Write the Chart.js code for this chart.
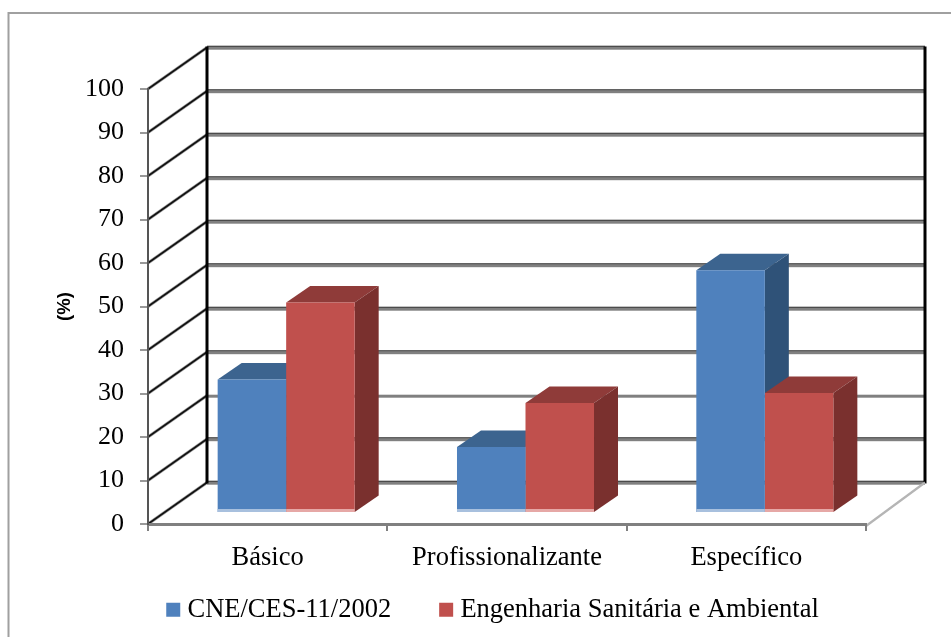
<!DOCTYPE html>
<html><head><meta charset="utf-8">
<style>html,body{margin:0;padding:0;background:#fff}#w{position:relative;width:951px;height:637px}canvas{display:block}</style>
<script src="https://cdn.jsdelivr.net/npm/chart.js@4"></script>
</head><body><div id="w"><canvas id="c" width="951" height="637"></canvas></div>
<script>
const categories = ["Básico", "Profissionalizante", "Específico"];
const seriesNames = ["CNE/CES-11/2002", "Engenharia Sanitária e Ambiental"];
const seriesA = [30.7, 15.2, 55.8];
const seriesB = [48.4, 25.3, 27.6];
const yTicks = [0,10,20,30,40,50,60,70,80,90,100];
const axisTitle = "(%)";

const FONT = "'Liberation Serif'";
const faces = [
  {front:"#4F81BD", top:"#3C648F", side:"#2F5278", strip:"#A8C0DE"},
  {front:"#C0504D", top:"#8F3B39", side:"#7A302E", strip:"#E6A8A6"}
];
const BAR_DX = 18.5, BAR_DY = -11, SIDE_DX = 24, SIDE_DY = -16.5;
const WALL_DX = 59, WALL_DY = -41.5;

function poly(ctx, pts, color){
  ctx.fillStyle = color; ctx.beginPath();
  pts.forEach((p,i)=> i?ctx.lineTo(p[0],p[1]):ctx.moveTo(p[0],p[1]));
  ctx.closePath(); ctx.fill();
}
const scene = {
  id:"scene",
  beforeDraw(chart){
    const ctx = chart.ctx, a = chart.chartArea, ys = chart.scales.y;
    ctx.save();
    ctx.strokeStyle="#a0a0a0"; ctx.lineWidth=2;
    ctx.beginPath(); ctx.moveTo(8.5,637); ctx.lineTo(8.5,13); ctx.lineTo(951,13); ctx.stroke();
    yTicks.forEach(v=>{
      const y = ys.getPixelForValue(v), by = y+WALL_DY;
      const x0 = a.left+WALL_DX, w = a.right-a.left;
      ctx.fillStyle="#808080"; ctx.fillRect(x0,by-0.8,w,3);
      if(v!==20){ ctx.fillStyle="#3c3c3c"; ctx.fillRect(x0,by-1.8,w,1.2); }
      ctx.strokeStyle="#a0a0a0"; ctx.lineWidth=3.2;
      ctx.beginPath(); ctx.moveTo(a.left,y); ctx.lineTo(x0,by); ctx.stroke();
      ctx.strokeStyle="#111"; ctx.lineWidth=1.6;
      ctx.beginPath(); ctx.moveTo(a.left,y); ctx.lineTo(x0,by); ctx.stroke();
    });
    const t = ys.getPixelForValue(100)+WALL_DY, b = ys.getPixelForValue(0)+WALL_DY;
    ctx.strokeStyle="#000"; ctx.lineWidth=3;
    ctx.beginPath(); ctx.moveTo(a.left+WALL_DX,t-1); ctx.lineTo(a.left+WALL_DX,b+1);
    ctx.moveTo(a.right+WALL_DX,t-1); ctx.lineTo(a.right+WALL_DX,b+1); ctx.stroke();
    ctx.strokeStyle="#b5b5b5"; ctx.lineWidth=2.2;
    ctx.beginPath(); ctx.moveTo(a.right,a.bottom+2); ctx.lineTo(a.right+WALL_DX,b); ctx.stroke();
    ctx.restore();
  },
  beforeDatasetsDraw(chart){
    const ctx = chart.ctx;
    ctx.save(); ctx.translate(BAR_DX,BAR_DY);
    [0,1].forEach(i=>{
      chart.getDatasetMeta(i).data.forEach(r=>{
        const p = r.getProps(["x","y","base","width"],true);
        const l=p.x-p.width/2, e=p.x+p.width/2;
        poly(ctx,[[l,p.y],[l+SIDE_DX,p.y+SIDE_DY],[e+SIDE_DX,p.y+SIDE_DY],[e,p.y]],faces[i].top);
        poly(ctx,[[e,p.y],[e+SIDE_DX,p.y+SIDE_DY],[e+SIDE_DX,p.base+SIDE_DY],[e,p.base]],faces[i].side);
      });
    });
  },
  afterDatasetsDraw(chart){
    const ctx = chart.ctx;
    [0,1].forEach(i=>{
      chart.getDatasetMeta(i).data.forEach(r=>{
        const p = r.getProps(["x","y","base","width"],true);
        ctx.fillStyle=faces[i].strip;
        ctx.fillRect(p.x-p.width/2,p.base-3,p.width,3);
      });
    });
    ctx.restore();
  },
  afterLayout(chart){
    const lg = chart.legend;
    if(lg){ lg.left += 62.5; lg.right += 62.5; }
    chart.scales.x.bottom += 45;
  }
};

new Chart(document.getElementById("c"),{
  type:"bar",
  data:{labels:categories,datasets:[
    {label:seriesNames[0],data:seriesA,backgroundColor:faces[0].front,clip:false},
    {label:seriesNames[1],data:seriesB,backgroundColor:faces[1].front,clip:false}
  ]},
  options:{
    responsive:false,animation:false,
    layout:{padding:{left:0,top:89,right:85,bottom:4}},
    datasets:{bar:{barPercentage:1,categoryPercentage:0.5725}},
    plugins:{
      tooltip:{enabled:false},
      legend:{position:"bottom",labels:{
        color:"#000",font:{family:FONT,size:26.5},boxWidth:2,boxHeight:2,padding:54,
        generateLabels(chart){
          return Chart.defaults.plugins.legend.labels.generateLabels(chart).map(o=>
            Object.assign(o,{strokeStyle:o.fillStyle,lineWidth:12}));
        }
      }}
    },
    scales:{
      x:{
        afterFit(s){s.height=18.5;},
        grid:{drawOnChartArea:false,color:"#808080",lineWidth:2,tickLength:7},
        border:{color:"#808080",width:3},
        ticks:{color:"#000",font:{family:FONT,size:26.5},padding:11,maxRotation:0}
      },
      y:{
        min:0,max:100,
        afterFit(s){s.width=148;},
        afterBuildTicks(s){s.ticks=yTicks.map(v=>({value:v}));},
        grid:{drawOnChartArea:false,color:"#999",lineWidth:2,tickLength:8},
        border:{color:"#555",width:2},
        ticks:{color:"#000",font:{family:FONT,size:26},padding:16},
        title:{display:true,text:axisTitle,color:"#000",font:{family:"'Liberation Sans'",size:18.5,weight:"bold"},padding:{top:54,bottom:0}}
      }
    }
  },
  plugins:[scene]
});
</script></body></html>
